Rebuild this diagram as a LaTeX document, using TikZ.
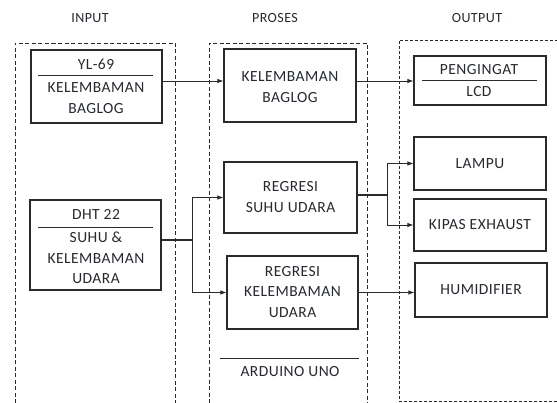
\documentclass[tikz,border=0pt]{standalone}
\usepackage{fontspec}
\setmainfont{Carlito}[LetterSpace=3]
\usetikzlibrary{arrows.meta,calc}
\definecolor{ink}{HTML}{2A2A2A}
\definecolor{txt}{HTML}{262A30}
\tikzset{
  box/.style={draw=ink,line width=1.1pt,rectangle,inner sep=0pt},
  lbl/.style={text=txt,font=\fontsize{15.5}{20.5}\selectfont,align=center,inner sep=0pt},
  ttl/.style={text=txt,font=\fontsize{14}{16}\selectfont,inner sep=0pt},
  grp/.style={draw=ink,line width=0.9pt,dash pattern=on 4pt off 2.5pt},
  grpb/.style={draw=ink,line width=0.9pt,dash pattern=on 3pt off 2pt},
  divl/.style={draw=ink,line width=0.9pt},
  arr/.style={draw=ink,line width=0.9pt,-{Latex[length=6pt,width=4.5pt]}},
  wire/.style={draw=ink,line width=0.9pt}
}
\begin{document}
\begin{tikzpicture}[x=1pt,y=-1pt]
\useasboundingbox[fill=white] (0,0) rectangle (557,403);
% group frames
\draw[grp] (15,403) -- (15,43) -- (175,43) -- (175,403);
\draw[grp] (209,403) -- (209,43) -- (367,43) -- (367,403);
\draw[grpb] (557,401) -- (399,401) -- (399,40) -- (557,40);
% titles
\node[ttl] (tin) at (90,18) {INPUT};
\node[ttl] (tpr) at (275,18) {PROSES};
\node[ttl] (tout) at (477,18) {OUTPUT};
% input boxes
\node[box,minimum width=131pt,minimum height=73pt] (yl) at (96.5,86.5) {};
\draw[divl] (38,75) -- (153,75);
\node[lbl] (ylt) at (96,64) {YL-69};
\node[lbl] (ylb) at (96,98) {KELEMBAMAN\\BAGLOG};
\node[box,minimum width=131pt,minimum height=90pt] (dht) at (95.5,245) {};
\draw[divl] (38,227) -- (153,227);
\node[lbl] (dhtt) at (96,214) {DHT 22};
\node[lbl] (dhtb) at (96,258) {SUHU \&\\KELEMBAMAN\\UDARA};
% process boxes
\node[box,minimum width=132pt,minimum height=73pt] (kb) at (290,85.5) {};
\node[lbl] (kbt) at (290,87) {KELEMBAMAN\\BAGLOG};
\node[box,minimum width=133pt,minimum height=71pt] (rs) at (290.5,197.5) {};
\node[lbl] (rst) at (290.5,197) {REGRESI\\SUHU UDARA};
\node[box,minimum width=131pt,minimum height=73pt] (rk) at (292.5,292.5) {};
\node[lbl] (rkt) at (292.5,292) {REGRESI\\KELEMBAMAN\\UDARA};
\draw[divl] (220,358) -- (359,358);
\node[lbl] (ard) at (290,372) {ARDUINO UNO};
% output boxes
\node[box,minimum width=132pt,minimum height=49pt] (lcd) at (480,80.5) {};
\draw[divl] (422,80) -- (537,80);
\node[lbl] (lcdt) at (479,70) {PENGINGAT};
\node[lbl] (lcdb) at (479,92) {LCD};
\node[box,minimum width=132pt,minimum height=53pt] (lampu) at (480,163.5) {};
\node[lbl] (lampt) at (480,164) {LAMPU};
\node[box,minimum width=132pt,minimum height=52pt] (kipas) at (480,225) {};
\node[lbl] (kipt) at (480,225) {KIPAS EXHAUST};
\node[box,minimum width=132pt,minimum height=54pt] (humid) at (481,290) {};
\node[lbl] (humt) at (481,290) {HUMIDIFIER};
% connectors
\coordinate (a1) at ([yshift=5.5pt]yl.east);
\draw[arr] (a1) -- (a1 -| kb.west);
\coordinate (a2) at ([yshift=4.5pt]kb.east);
\draw[arr] (a2) -- (a2 -| lcd.west);
\coordinate (d1) at ([yshift=5pt]dht.east);
\coordinate (j1) at ($(d1)+(31,0)$);
\draw[wire,line width=1.6pt] (d1) -- (j1);
\draw[arr] (j1) |- (rs.west);
\draw[arr] (j1) |- (rk.west);
\coordinate (r1) at ([yshift=2.5pt]rs.east);
\coordinate (j2) at ($(r1)+(30,0)$);
\draw[wire,line width=1.4pt] (r1) -- (j2);
\draw[arr] (j2) |- (lampu.west);
\draw[arr] (j2) |- (kipas.west);
\draw[arr] (rk.east) -- (rk.east -| humid.west);
\end{tikzpicture}
\end{document}
